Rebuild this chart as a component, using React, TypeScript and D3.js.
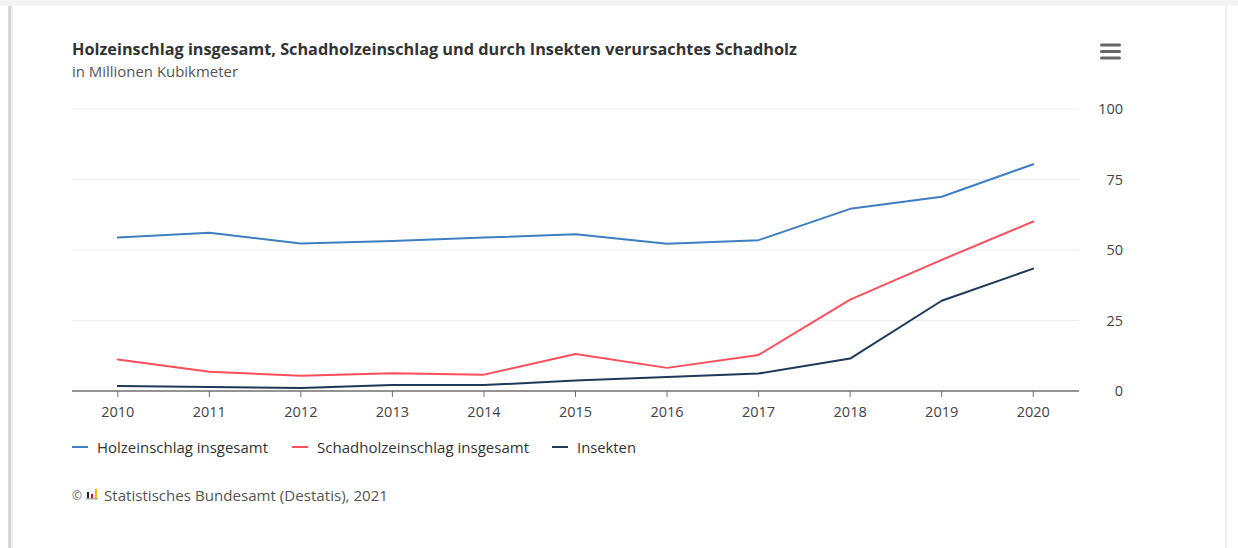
import React from "react";
import * as d3 from "d3";

const years = [2010, 2011, 2012, 2013, 2014, 2015, 2016, 2017, 2018, 2019, 2020];
const holzeinschlag = [54.4, 56.1, 52.3, 53.2, 54.4, 55.6, 52.2, 53.5, 64.6, 68.9, 80.4];
const schadholz = [11.2, 6.8, 5.4, 6.3, 5.8, 13.1, 8.2, 12.8, 32.4, 46.5, 60.1];
const insekten = [1.8, 1.4, 1.1, 2.1, 2.1, 3.7, 5.0, 6.2, 11.5, 32.0, 43.4];
const yTicks = [0, 25, 50, 75, 100];
const seriesNames = ["Holzeinschlag insgesamt", "Schadholzeinschlag insgesamt", "Insekten"];
const seriesColors = ["#3d7fc2", "#ff4f5c", "#1e3a57"];

const title = "Holzeinschlag insgesamt, Schadholzeinschlag und durch Insekten verursachtes Schadholz";
const subtitle = "in Millionen Kubikmeter";
const credits = "Statistisches Bundesamt (Destatis), 2021";

const FONT = "'Open Sans', 'Noto Sans', sans-serif";

export default function App() {
  const W = 1238, H = 548;
  const x = d3.scalePoint<number>().domain(years).range([72, 1079]).padding(0.5);
  const y = d3.scaleLinear().domain([0, 100]).range([391, 109]);
  const line = d3.line<number>().x((_, i) => x(years[i]) as number).y((d) => y(d));
  const allSeries = [holzeinschlag, schadholz, insekten];
  const legendX = [72, 292, 552];
  const legendW = [171, 212, 59];

  return (
    <svg width={W} height={H} style={{ position: "absolute", left: 0, top: 0, display: "block" }} fontFamily={FONT}>
      <rect x={0} y={0} width={W} height={H} fill="#ffffff" />
      {/* card frame / shadow */}
      <rect x={0} y={0} width={W} height={6} fill="#f4f4f4" />
      <rect x={8} y={6} width={3} height={H - 6} fill="#d6d6d6" />
      <rect x={11} y={6} width={2} height={H - 6} fill="#eeeeee" />
      <rect x={1225} y={6} width={2} height={H - 6} fill="#f0f0f0" />

      {/* title */}
      <text x={72} y={55} fontSize={15.5} fontWeight={700} fill="#333" textLength={725} lengthAdjust="spacingAndGlyphs">{title}</text>
      <text x={72} y={77} fontSize={14} fill="#555" textLength={166} lengthAdjust="spacingAndGlyphs">{subtitle}</text>

      {/* menu icon */}
      {[45, 51.5, 58].map((yy, i) => (
        <rect key={i} x={1100} y={yy - 1.5} width={21} height={3} rx={1.5} fill="#666" />
      ))}

      {/* grid */}
      {yTicks.filter((t) => t !== 0).map((t) => (
        <line key={t} x1={72} x2={1079} y1={y(t)} y2={y(t)} stroke="#ededed" strokeWidth={1} />
      ))}
      {yTicks.map((t) => (
        <text key={t} x={1123} y={y(t) + 5} fontSize={14.5} fill="#444" textAnchor="end">{t}</text>
      ))}

      {/* x axis */}
      <line x1={72} x2={1079} y1={391} y2={391} stroke="#707070" strokeWidth={1.5} />
      {years.map((yr) => (
        <g key={yr}>
          <line x1={x(yr)} x2={x(yr)} y1={391} y2={397} stroke="#707070" strokeWidth={1} />
          <text x={x(yr)} y={417} fontSize={14.5} fill="#444" textAnchor="middle">{yr}</text>
        </g>
      ))}

      {/* series */}
      {allSeries.map((s, i) => (
        <path key={i} d={line(s) || ""} fill="none" stroke={seriesColors[i]} strokeWidth={2} strokeLinejoin="round" strokeLinecap="round" />
      ))}

      {/* legend */}
      {seriesNames.map((n, i) => (
        <g key={n}>
          <line x1={legendX[i]} x2={legendX[i] + 16} y1={447} y2={447} stroke={seriesColors[i]} strokeWidth={2} />
          <text x={legendX[i] + 25} y={452.5} fontSize={15} fill="#333" textLength={legendW[i]} lengthAdjust="spacingAndGlyphs">{n}</text>
        </g>
      ))}

      {/* credits */}
      <text x={72} y={500} fontSize={12} fill="#666">©</text>
      <g>
        <rect x={87} y={492} width={2} height={6} fill="#222" />
        <rect x={91} y={494} width={2} height={4} fill="#e3001b" />
        <rect x={95} y={489} width={2} height={9} fill="#f5b800" />
        <rect x={86} y={498} width={12} height={1.5} fill="#aaa" />
      </g>
      <text x={104} y={500.5} fontSize={15} fill="#555" textLength={284} lengthAdjust="spacingAndGlyphs">{credits}</text>
    </svg>
  );
}
